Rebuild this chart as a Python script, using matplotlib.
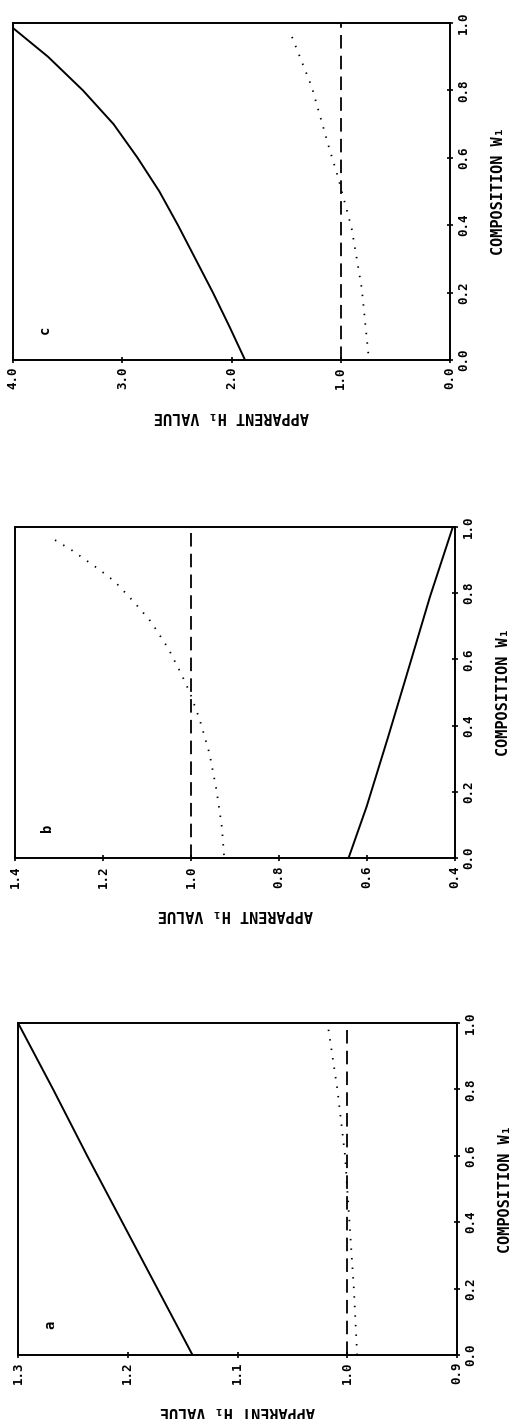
import matplotlib
matplotlib.use('Agg')
import matplotlib.pyplot as plt

# composition w1 and apparent H1 values
w_a = [0.0, 0.2, 0.4, 0.6, 0.8, 1.0]
solid_a = [1.141, 1.173, 1.205, 1.237, 1.268, 1.300]
dotted_a = [0.991, 0.994, 0.998, 1.002, 1.009, 1.018]

w_b_solid = [0.0, 0.155, 0.366, 0.588, 0.789, 1.0]
solid_b = [0.642, 0.601, 0.552, 0.502, 0.457, 0.405]
w_b_dot = [0.009, 0.095, 0.205, 0.316, 0.417, 0.498, 0.553, 0.634, 0.714,
           0.774, 0.835, 0.872, 0.93, 0.971]
dotted_b = [0.925, 0.930, 0.942, 0.958, 0.980, 1.002, 1.021, 1.052, 1.091,
            1.130, 1.173, 1.209, 1.271, 1.322]

w_c = [0.0, 0.1, 0.2, 0.3, 0.4, 0.5, 0.6, 0.7, 0.8, 0.9, 0.985]
solid_c = [1.876, 2.02, 2.17, 2.33, 2.49, 2.66, 2.86, 3.08, 3.36, 3.68, 4.0]
w_c_dot = [0.02, 0.213, 0.39, 0.539, 0.638, 0.811, 0.974]
dotted_c = [0.748, 0.808, 0.900, 1.022, 1.114, 1.266, 1.465]

w_ticks = [0.0, 0.2, 0.4, 0.6, 0.8, 1.0]
h_ticks_a = [1.3, 1.2, 1.1, 1.0, 0.9]
h_ticks_b = [1.4, 1.2, 1.0, 0.8, 0.6, 0.4]
h_ticks_c = [4.0, 3.0, 2.0, 1.0, 0.0]

FONT = ['DejaVu Sans Mono', 'DejaVu Sans']
plt.rcParams['font.family'] = FONT
plt.rcParams['font.weight'] = 'bold'
plt.rcParams['axes.labelweight'] = 'bold'

fig = plt.figure(figsize=(5.12, 14.19), dpi=100)

# the page is turned on its side: H1 runs along the horizontal (inverted),
# composition runs bottom to top with its axis on the right
panels = [
    ('c', [0.0254, 0.7463, 0.8535, 0.2375], (4.0, 0.0), h_ticks_c,
     (w_c, solid_c), (w_c_dot, dotted_c)),
    ('b', [0.0293, 0.3953, 0.8594, 0.2333], (1.4, 0.4), h_ticks_b,
     (w_b_solid, solid_b), (w_b_dot, dotted_b)),
    ('a', [0.0352, 0.0451, 0.8574, 0.2340], (1.3, 0.9), h_ticks_a,
     (w_a, solid_a), (w_a, dotted_a)),
]

for letter, rect, hlim, hticks, solid, dotted in panels:
    ax = fig.add_axes(rect)
    ax.plot(solid[1], solid[0], color='black', lw=1.4, solid_capstyle='butt')
    ax.plot([1.0, 1.0], [0.0, 1.0], color='black', lw=1.3, dashes=(7.5, 4))
    ax.plot(dotted[1], dotted[0], color='black', lw=1.3, linestyle=(0, (0.8, 4.5)))
    ax.set_xlim(*hlim)
    ax.set_ylim(0, 1)
    ax.set_xticks(hticks)
    ax.set_xticklabels(['%.1f' % t for t in hticks], rotation=90, fontsize=9)
    ax.yaxis.tick_right()
    ax.yaxis.set_label_position('right')
    ax.set_yticks(w_ticks)
    ax.set_yticklabels(['%.1f' % t for t in w_ticks], rotation=90, fontsize=9,
                       va='center')
    ax.tick_params(direction='inout', length=4, width=1.2, pad=3)
    for sp in ax.spines.values():
        sp.set_linewidth(1.4)
    ax.set_xlabel('APPARENT H₁ VALUE', rotation=180, fontsize=11,
                  fontweight='bold', labelpad=14)
    ax.set_ylabel('COMPOSITION W₁', rotation=90, fontsize=11,
                  fontweight='bold', labelpad=15)
    ax.text(0.073, 0.09, letter, transform=ax.transAxes, rotation=90,
            fontsize=10, fontweight='bold', ha='center', va='center')

plt.savefig('out.png', dpi=100)
